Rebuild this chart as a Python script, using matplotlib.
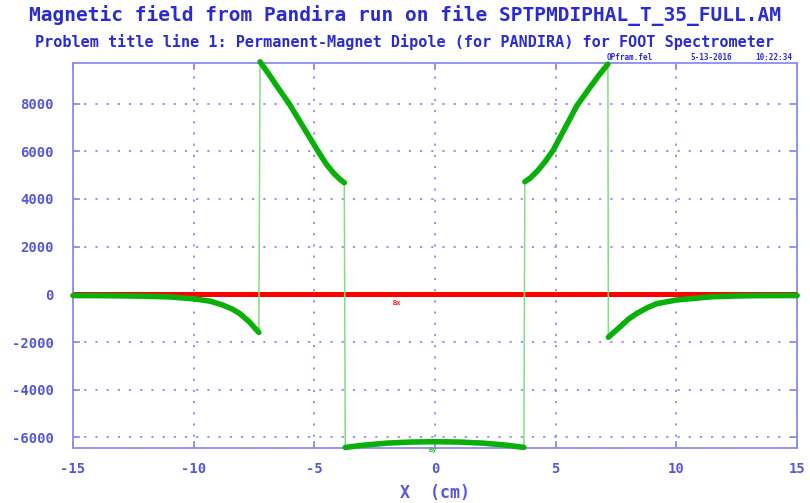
import matplotlib.pyplot as plt
import numpy as np

# By (gauss) along the midplane, one list per continuous stretch of the field map
x_out_left = [-15.0, -14.0, -13.0, -12.0, -11.0, -10.0, -9.3, -8.8, -8.4, -8.1, -7.7, -7.3]
by_out_left = [-50, -55, -65, -80, -110, -190, -290, -450, -620, -800, -1150, -1600]

x_pole_left = [-7.25, -6.9, -6.5, -6.05, -5.45, -4.85, -4.5, -4.2, -3.95, -3.76]
by_pole_left = [9750, 9250, 8650, 8000, 7000, 6000, 5450, 5080, 4830, 4680]

x_gap = [-3.72, -3.0, -2.0, -1.0, 0.0, 1.0, 2.0, 3.0, 3.68]
by_gap = [-6420, -6330, -6240, -6195, -6180, -6195, -6240, -6330, -6420]

x_pole_right = [3.72, 3.95, 4.25, 4.55, 4.9, 5.4, 5.87, 6.4, 6.8, 7.16]
by_pole_right = [4720, 4880, 5180, 5550, 6050, 7000, 7900, 8650, 9200, 9650]

x_out_right = [7.18, 7.4, 7.67, 8.0, 8.36, 8.8, 9.19, 10.0, 11.5, 12.5, 13.5, 15.0]
by_out_right = [-1800, -1600, -1360, -1050, -800, -560, -390, -240, -100, -70, -55, -50]

# Bx is zero on the midplane
x_bx = [-15.0, 15.0]
bx = [0, 0]

segments = [(x_out_left, by_out_left), (x_pole_left, by_pole_left), (x_gap, by_gap),
            (x_pole_right, by_pole_right), (x_out_right, by_out_right)]

x_ticks = [-15, -10, -5, 0, 5, 10, 15]
y_ticks = [-6000, -4000, -2000, 0, 2000, 4000, 6000, 8000]

title_blue = '#2a2ad6'
label_blue = '#5656e2'
axis_blue = '#8c8cee'
mono = 'DejaVu Sans Mono'

fig = plt.figure(figsize=(8.1, 5.03), dpi=100)
ax = fig.add_axes([0.0901, 0.110, 0.894, 0.7653])

ax.plot(x_bx, bx, color='#ff0000', lw=3.6, solid_capstyle='butt', zorder=3)

# thin line joins everything, including the jumps at the pole edges
x_all = np.concatenate([s[0] for s in segments])
by_all = np.concatenate([s[1] for s in segments])
ax.plot(x_all, by_all, color='#80dd80', lw=1.1, zorder=4, clip_on=False)
for xs, ys in segments:
    ax.plot(xs, ys, color='#08b008', lw=4.0, solid_capstyle='round', solid_joinstyle='round',
            zorder=5, clip_on=False)

ax.text(-1.6, -380, 'Bx', color='#ff2020', fontsize=5, fontweight='bold', family=mono,
        ha='center', va='center')
ax.text(-0.1, -6540, 'By', color='#30c030', fontsize=5, fontweight='bold', family=mono,
        ha='center', va='center', clip_on=False)

ax.set_xlim(-15, 15)
ax.set_ylim(-6430, 9710)
ax.set_xticks(x_ticks)
ax.set_yticks(y_ticks)
ax.set_xticklabels([str(v) for v in x_ticks])
ax.set_yticklabels([str(v) for v in y_ticks])

ax.grid(True, color=axis_blue, linestyle=(0, (1.2, 5)), lw=1.3)
for sp in ax.spines.values():
    sp.set_color(axis_blue)
    sp.set_linewidth(1.3)
ax.tick_params(direction='in', length=5, width=1.3, color=axis_blue,
               top=True, right=True, labelcolor=label_blue)
ax.tick_params(axis='y', pad=14)
ax.tick_params(axis='x', pad=10)
for lab in ax.get_xticklabels() + ax.get_yticklabels():
    lab.set_family(mono)
    lab.set_fontweight('bold')
    lab.set_fontsize(10)

ax.set_xlabel('X  (cm)', color=label_blue, family=mono, fontweight='bold', fontsize=12, labelpad=6)

fig.text(0.5, 1 - 15 / 503, 'Magnetic field from Pandira run on file SPTPMDIPHAL_T_35_FULL.AM',
         color=title_blue, family=mono, fontweight='bold', fontsize=14, ha='center', va='center')
fig.text(0.5, 1 - 42 / 503,
         'Problem title line 1: Permanent-Magnet Dipole (for PANDIRA) for FOOT Spectrometer',
         color=title_blue, family=mono, fontweight='bold', fontsize=10.9, ha='center', va='center')
for txt, xp in [('OPfram.fel', 630), ('5-13-2016', 711), ('10:22:34', 774)]:
    fig.text(xp / 810, 1 - 57 / 503, txt, color=title_blue, family=mono, fontweight='bold',
             fontsize=5.5, ha='center', va='center')

fig.savefig('out.png', dpi=100)
